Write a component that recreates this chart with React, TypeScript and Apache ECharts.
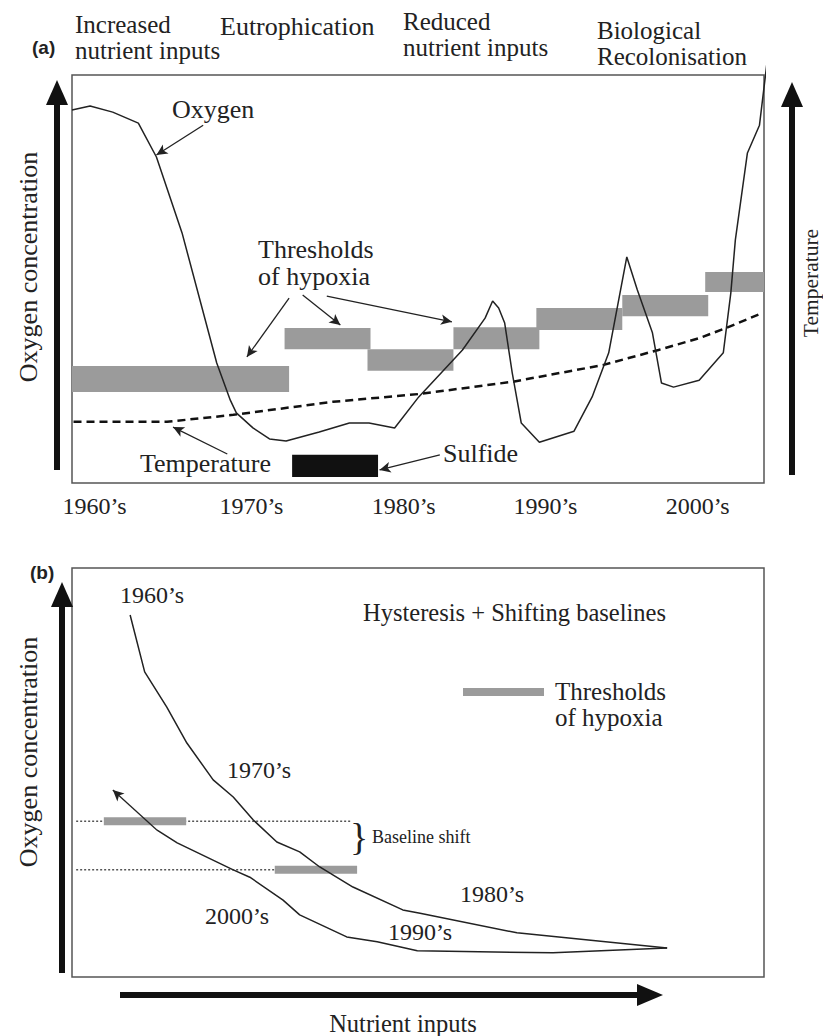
import React, { useEffect, useRef } from "react";
import * as echarts from "echarts";

// ---------- Panel (a) data: x = year, y = relative level (0-100) ----------
const oxygenA: [number, number][] = [
  [1958.5, 91.4], [1959.7, 92.4], [1961.2, 90.9], [1962.9, 88.2], [1964.1, 79.9],
  [1965.8, 61.3], [1968.1, 29.4], [1969.0, 20.3], [1969.4, 17.2], [1970.5, 13.5],
  [1971.6, 10.8], [1972.7, 10.3], [1974.9, 12.5], [1976.9, 14.7], [1978.2, 14.7],
  [1979.9, 13.5], [1981.5, 21.1], [1984.4, 32.6], [1985.9, 40.4], [1986.4, 44.6],
  [1986.8, 42.9], [1987.2, 39.2], [1987.7, 27.0], [1988.3, 14.7], [1989.5, 10.0],
  [1991.8, 12.7], [1993.0, 21.1], [1994.1, 31.9], [1994.8, 45.6], [1995.3, 55.4],
  [1996.0, 47.3], [1997.0, 36.8], [1997.6, 24.5], [1998.4, 23.5], [2000.1, 25.2],
  [2001.7, 31.9], [2002.2, 46.6], [2002.5, 59.6], [2003.3, 80.9], [2004.1, 87.7],
  [2004.9, 112.3],
];
const temperatureA: [number, number][] = [
  [1958.6, 15.0], [1964.8, 15.0], [1969.2, 16.7], [1975.8, 19.9], [1981.5, 21.8],
  [1987.7, 24.8], [1993.7, 28.9], [1997.4, 32.6], [2000.1, 35.5], [2001.9, 38.0],
  [2004.3, 41.7],
];
// [start year, end year, low, high]
const hypoxiaThresholdsA: number[][] = [
  [1958.5, 1972.9, 22.3, 28.7],
  [1972.6, 1978.3, 32.8, 38.0],
  [1978.1, 1983.8, 27.5, 32.8],
  [1983.8, 1989.5, 32.8, 38.2],
  [1989.3, 1995.0, 37.5, 42.9],
  [1995.0, 2000.7, 40.9, 46.1],
  [2000.5, 2004.4, 46.8, 51.7],
];
const sulfideA: number[][] = [[1973.1, 1978.8, 1.5, 6.9]];
const decadePositions = [1960, 1970.4, 1980.5, 1989.9, 2000];
const decadeLabels = ["1960’s", "1970’s", "1980’s", "1990’s", "2000’s"];
// annotation arrows [fromX, fromY, toX, toY]
const arrowsA: number[][] = [
  [1967.2, 87.7, 1964.1, 80.4],
  [1972.9, 45.3, 1970.1, 30.9],
  [1973.8, 46.1, 1976.3, 38.7],
  [1975.4, 45.8, 1983.7, 39.5],
  [1968.8, 7.1, 1965.2, 13.7],
  [1982.9, 6.9, 1978.9, 3.2],
];

// ---------- Panel (b) data: x = nutrient inputs, y = oxygen (0-100) ----------
const forwardPathB: [number, number][] = [
  [8.4, 88.5], [10.5, 74.6], [13.7, 66.0], [16.6, 57.2], [20.4, 48.2], [23.3, 44.0],
  [26.2, 38.4], [29.6, 33.0], [32.9, 30.6], [35.8, 26.9], [40.6, 22.0], [47.8, 16.4],
  [50.3, 15.6], [64.3, 10.8], [86.0, 7.1],
];
const returnPathB: [number, number][] = [
  [86.0, 7.1], [69.5, 5.9], [49.9, 6.4], [44.1, 8.6], [39.7, 9.8], [32.9, 15.2],
  [30.5, 18.8], [25.7, 24.4], [23.3, 26.2], [15.2, 32.8], [12.3, 35.9],
];
const returnArrowB: number[][] = [[12.3, 35.9, 5.9, 45.7]];
// [start, end, level]
const hypoxiaThresholdsB: number[][] = [
  [4.6, 16.5, 38.1],
  [29.3, 41.2, 26.2],
];
const baselinesB: number[][] = [
  [0.6, 40.3, 38.1],
  [0.6, 29.3, 26.2],
];

const SERIF = "'Liberation Serif', 'Times New Roman', serif";
const INK = "#222";
const GREY = "#9b9b9b";

function txt(text: string, x: number, y: number, opts: any = {}) {
  const align = opts.align || "left";
  return {
    type: "text",
    x,
    y,
    rotation: opts.rotation || 0,
    silent: true,
    style: {
      text,
      fill: opts.fill || INK,
      fontSize: opts.fontSize || 26,
      fontFamily: opts.fontFamily || SERIF,
      fontWeight: opts.fontWeight || "normal",
      lineHeight: opts.lineHeight || opts.fontSize || 26,
      align,
      verticalAlign: "middle",
      textAlign: align,
      textVerticalAlign: "middle",
    },
  };
}

function vArrow(x: number, yTop: number, yBottom: number) {
  return [
    { type: "rect", silent: true, shape: { x: x - 3, y: yTop + 20, width: 6, height: yBottom - yTop - 20 }, style: { fill: "#111" } },
    { type: "polygon", silent: true, shape: { points: [[x - 11, yTop + 25], [x + 11, yTop + 25], [x, yTop]] }, style: { fill: "#111" } },
  ];
}

export default function App() {
  const ref = useRef<HTMLDivElement>(null);
  useEffect(() => {
    document.body.style.margin = "0";
    if (!ref.current) return;
    const chart = echarts.init(ref.current, null, { renderer: "svg" });

    const rectItem = (params: any, api: any) => {
      const p0 = api.coord([api.value(0), api.value(3)]);
      const p1 = api.coord([api.value(1), api.value(2)]);
      return {
        type: "rect",
        shape: { x: p0[0], y: p0[1], width: p1[0] - p0[0], height: p1[1] - p0[1] },
        style: { fill: params.seriesName === "Sulfide" ? "#111" : GREY },
      };
    };
    const barB = (params: any, api: any) => {
      const p0 = api.coord([api.value(0), api.value(2)]);
      const p1 = api.coord([api.value(1), api.value(2)]);
      return {
        type: "rect",
        shape: { x: p0[0], y: p0[1] - 4, width: p1[0] - p0[0], height: 8 },
        style: { fill: GREY },
      };
    };
    const dottedB = (params: any, api: any) => {
      const p0 = api.coord([api.value(0), api.value(2)]);
      const p1 = api.coord([api.value(1), api.value(2)]);
      return {
        type: "line",
        shape: { x1: p0[0], y1: p0[1], x2: p1[0], y2: p1[1] },
        style: { stroke: "#555", lineWidth: 1.5, lineDash: [2, 2] },
      };
    };
    const arrowMark = (arr: number[][]) => ({
      silent: true,
      symbol: ["none", "arrow"],
      symbolSize: [8, 11],
      lineStyle: { color: INK, width: 1.3, type: "solid" },
      label: { show: false },
      emphasis: { disabled: true },
      data: arr.map((a) => [{ coord: [a[0], a[1]] }, { coord: [a[2], a[3]] }]),
    });

    const option: any = {
      animation: false,
      backgroundColor: "#fff",
      grid: [
        { left: 72, top: 75, width: 692, height: 408, show: true, borderColor: "#555", borderWidth: 1.5, backgroundColor: "transparent" },
        { left: 72, top: 568, width: 692, height: 409, show: true, borderColor: "#555", borderWidth: 1.5, backgroundColor: "transparent" },
      ],
      xAxis: [
        {
          type: "value", gridIndex: 0, min: 1958.5, max: 2004.4,
          axisLine: { show: false }, axisTick: { show: false }, splitLine: { show: false },
          axisLabel: {
            customValues: decadePositions,
            formatter: (v: number) => {
              const i = decadePositions.findIndex((p) => Math.abs(p - v) < 0.01);
              return i >= 0 ? decadeLabels[i] : "";
            },
            color: INK, fontSize: 24, fontFamily: SERIF, lineHeight: 24, margin: 11,
            showMinLabel: true, showMaxLabel: true, hideOverlap: false,
          },
        },
        { type: "value", gridIndex: 1, min: 0, max: 100, show: false },
      ],
      yAxis: [
        { type: "value", gridIndex: 0, min: 0, max: 100, show: false },
        { type: "value", gridIndex: 1, min: 0, max: 100, show: false },
      ],
      series: [
        {
          name: "Thresholds of hypoxia", type: "custom", xAxisIndex: 0, yAxisIndex: 0,
          renderItem: rectItem, data: hypoxiaThresholdsA, silent: true, z: 1,
        },
        {
          name: "Sulfide", type: "custom", xAxisIndex: 0, yAxisIndex: 0,
          renderItem: rectItem, data: sulfideA, silent: true, z: 1,
        },
        {
          name: "Temperature", type: "line", xAxisIndex: 0, yAxisIndex: 0, data: temperatureA,
          symbol: "none", silent: true, z: 3,
          lineStyle: { color: "#111", width: 2.5, type: [8, 5] },
        },
        {
          name: "Oxygen", type: "line", xAxisIndex: 0, yAxisIndex: 0, data: oxygenA,
          symbol: "none", clip: false, silent: true, z: 4,
          lineStyle: { color: INK, width: 1.5 },
          markLine: arrowMark(arrowsA),
        },
        {
          name: "Baselines", type: "custom", xAxisIndex: 1, yAxisIndex: 1,
          renderItem: dottedB, data: baselinesB, silent: true, z: 1,
        },
        {
          name: "Thresholds B", type: "custom", xAxisIndex: 1, yAxisIndex: 1,
          renderItem: barB, data: hypoxiaThresholdsB, silent: true, z: 2,
        },
        {
          name: "Eutrophication path", type: "line", xAxisIndex: 1, yAxisIndex: 1, data: forwardPathB,
          symbol: "none", silent: true, z: 4, lineStyle: { color: INK, width: 1.5 },
        },
        {
          name: "Recovery path", type: "line", xAxisIndex: 1, yAxisIndex: 1, data: returnPathB,
          symbol: "none", silent: true, z: 4, lineStyle: { color: INK, width: 1.5 },
          markLine: arrowMark(returnArrowB),
        },
      ],
      graphic: [
        // Panel (a) labels
        txt("(a)", 32, 47, { fontFamily: "'Liberation Sans', Arial, sans-serif", fontWeight: "bold", fontSize: 19 }),
        txt("Increased\nnutrient inputs", 75, 37, { fontSize: 25, lineHeight: 26 }),
        txt("Eutrophication", 220, 26.5),
        txt("Reduced\nnutrient inputs", 403, 34.5, { fontSize: 25, lineHeight: 26 }),
        txt("Biological\nRecolonisation", 597, 43.5, { fontSize: 25, lineHeight: 26 }),
        txt("Oxygen", 172, 109.5),
        txt("Thresholds\nof hypoxia", 258, 263, { lineHeight: 27 }),
        txt("Temperature", 140, 463.5),
        txt("Sulfide", 443, 453.5),
        txt("Oxygen concentration", 28, 267, { align: "center", rotation: Math.PI / 2, fontSize: 26 }),
        txt("Temperature", 811, 283, { align: "center", rotation: Math.PI / 2, fontSize: 21.5, lineHeight: 20 }),
        ...vArrow(57, 80, 470),
        ...vArrow(792, 82, 475),
        // Panel (b) labels
        txt("(b)", 30, 572, { fontFamily: "'Liberation Sans', Arial, sans-serif", fontWeight: "bold", fontSize: 19 }),
        txt("1960’s", 120, 595, { fontSize: 24 }),
        txt("1970’s", 227, 770, { fontSize: 24 }),
        txt("1980’s", 460, 894, { fontSize: 24 }),
        txt("1990’s", 388, 932, { fontSize: 24 }),
        txt("2000’s", 205, 916, { fontSize: 24 }),
        txt("Hysteresis + Shifting baselines", 363, 612, { fontSize: 24.5 }),
        { type: "rect", silent: true, shape: { x: 463, y: 688, width: 81, height: 8 }, style: { fill: GREY } },
        txt("Thresholds\nof hypoxia", 555, 704, { fontSize: 25, lineHeight: 26 }),
        txt("}", 350, 837, { fontSize: 38, lineHeight: 38 }),
        txt("Baseline shift", 372, 837, { fontSize: 18 }),
        txt("Oxygen concentration", 28, 752, { align: "center", rotation: Math.PI / 2, fontSize: 26 }),
        txt("Nutrient inputs", 403, 1023, { align: "center", fontSize: 24.5 }),
        ...vArrow(62, 582, 973),
        { type: "rect", silent: true, shape: { x: 120, y: 992, width: 522, height: 6 }, style: { fill: "#111" } },
        { type: "polygon", silent: true, shape: { points: [[637, 984], [637, 1006], [663, 995]] }, style: { fill: "#111" } },
      ],
    };
    chart.setOption(option);
    return () => chart.dispose();
  }, []);
  return (
    <div
      ref={ref}
      style={{ position: "absolute", left: 0, top: 0, width: 823, height: 1036 }}
    />
  );
}
